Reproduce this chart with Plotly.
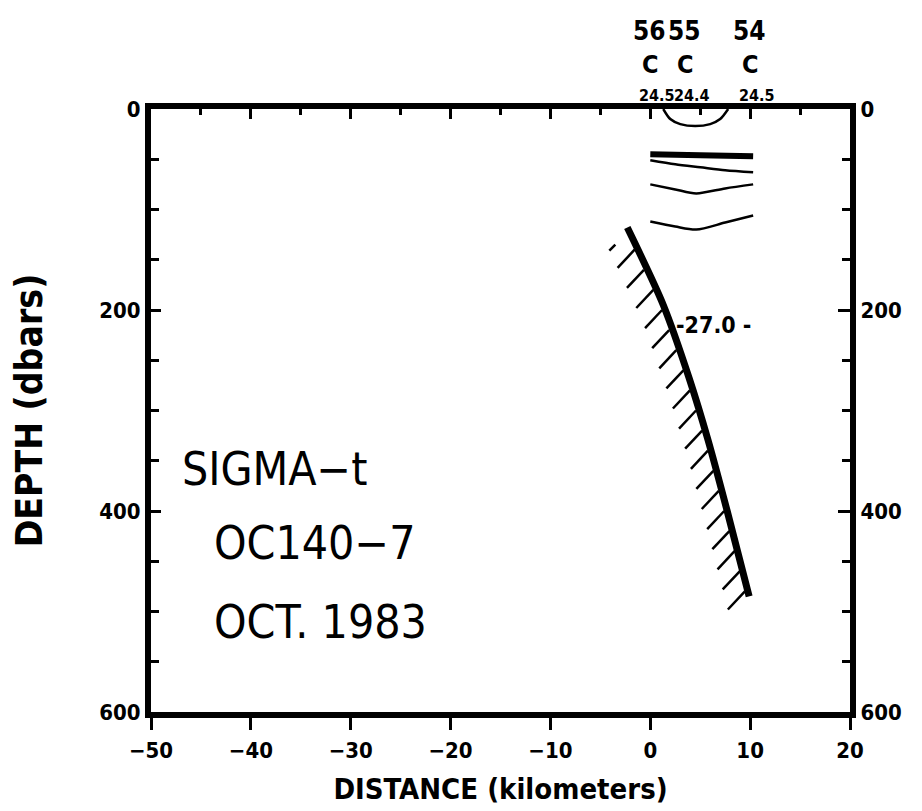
import numpy as np
import plotly.graph_objects as go

# ---------------- data ----------------
station_x = [0.0, 3.5, 10.0]
station_ids = ["56", "55", "54"]
station_cast = ["C", "C", "C"]
surface_sigma = ["24.5", "24.4", "24.5"]

# sigma-t contour lines (distance km, depth dbar)
bowl_x = [1.3, 2.0, 3.0, 4.5, 6.0, 7.0, 7.8]
bowl_d = [0, 10, 15, 17, 15, 10, 0]
c1_x = [0.0, 5.0, 10.3]
c1_d = [45, 46, 47]
c2_x = [0.0, 2.5, 5.0, 7.5, 10.3]
c2_d = [51, 55, 58, 61, 63]
c3_x = [0.0, 2.5, 4.6, 7.5, 10.3]
c3_d = [75, 80, 84, 79, 75]
c4_x = [0.0, 2.5, 4.6, 7.5, 10.3]
c4_d = [112, 117, 120, 113, 106]

# bottom profile
bottom_x = [-2.3, 1.3, 3.9, 5.8, 7.7, 9.9]
bottom_d = [118, 195, 268, 330, 400, 485]
hatch_depths = list(range(140, 481, 20))
stray_x = [-4.1, -3.5]
stray_d = [141, 135]

label_27 = "-27.0 -"
label_27_x = 6.3
label_27_d = 215

x_ticks = [-50, -40, -30, -20, -10, 0, 10, 20]
y_ticks = [0, 200, 400, 600]

FONT = "Liberation Sans Narrow, DejaVu Sans Condensed, Arial Narrow, sans-serif"

fig = go.Figure()

line_style = dict(color="black", shape="spline", smoothing=0.8)

fig.add_trace(go.Scatter(x=bowl_x, y=bowl_d, mode="lines",
                         line=dict(width=2.5, **line_style), hoverinfo="skip"))
fig.add_trace(go.Scatter(x=c1_x, y=c1_d, mode="lines",
                         line=dict(width=6, **line_style), hoverinfo="skip"))
for cx, cd in [(c2_x, c2_d), (c3_x, c3_d), (c4_x, c4_d)]:
    fig.add_trace(go.Scatter(x=cx, y=cd, mode="lines",
                             line=dict(width=2.5, **line_style), hoverinfo="skip"))

# bottom hatching
hx, hy = [], []
bd = np.array(bottom_d, dtype=float)
bx = np.array(bottom_x, dtype=float)
for d in hatch_depths:
    x0 = float(np.interp(d, bd, bx))
    hx += [x0 - 0.3, x0 - 2.0, None]
    hy += [d, d + 18, None]
fig.add_trace(go.Scatter(x=hx, y=hy, mode="lines",
                         line=dict(color="black", width=2.5), hoverinfo="skip"))
fig.add_trace(go.Scatter(x=stray_x, y=stray_d, mode="lines",
                         line=dict(color="black", width=2.5), hoverinfo="skip"))
fig.add_trace(go.Scatter(x=bottom_x, y=bottom_d, mode="lines",
                         line=dict(width=7, **line_style), hoverinfo="skip"))

# invisible traces anchoring the overlay axes
fig.add_trace(go.Scatter(x=[-50, 20], y=[0, 0], xaxis="x2", mode="lines",
                         line=dict(width=0), showlegend=False, hoverinfo="skip"))
fig.add_trace(go.Scatter(x=[-50, 20], y=[0, 0], yaxis="y2", mode="lines",
                         line=dict(width=0), showlegend=False, hoverinfo="skip"))

annotations = []
for sx, sid, sc, sv in zip(station_x, station_ids, station_cast, surface_sigma):
    annotations.append(dict(x=sx, y=1.13, xref="x", yref="paper", yanchor="middle",
                            text="<b>" + sid + "</b>", showarrow=False, xshift=-1,
                            font=dict(family=FONT, size=26, color="black")))
    annotations.append(dict(x=sx, y=1.073, xref="x", yref="paper", yanchor="middle",
                            text="<b>" + sc + "</b>", showarrow=False,
                            font=dict(family=FONT, size=25, color="black")))
    annotations.append(dict(x=sx, y=1.023, xref="x", yref="paper", yanchor="middle",
                            text="<b>" + sv + "</b>", showarrow=False, xshift=7,
                            font=dict(family=FONT, size=16, color="black")))

annotations.append(dict(x=label_27_x, y=label_27_d, xref="x", yref="y", text="<b>" + label_27 + "</b>",
                        showarrow=False, font=dict(family=FONT, size=23, color="black")))

for txt, xx, yy in [("SIGMA−t", -46.4, 358), ("OC140−7", -43.2, 432), ("OCT. 1983", -43.2, 510)]:
    annotations.append(dict(x=xx, y=yy, xref="x", yref="y", text=txt, showarrow=False,
                            xanchor="left", xshift=-7,
                            font=dict(family=FONT, size=46, color="black")))

fig.update_layout(
    width=922, height=811,
    margin=dict(l=143, r=80, t=101, b=107),
    paper_bgcolor="white", plot_bgcolor="white",
    showlegend=False,
    font=dict(family=FONT, color="black"),
    annotations=annotations,
    xaxis=dict(range=[-50, 20], tickvals=x_ticks, ticks="outside", ticklen=12, tickwidth=3,
               tickcolor="black", showline=True, linewidth=6, linecolor="black",
               showgrid=False, zeroline=False, ticklabelstandoff=2,
               tickfont=dict(family=FONT, size=22, color="black", weight="bold"),
               title=dict(text="<b>DISTANCE (kilometers)</b>",
                          font=dict(family=FONT, size=29, color="black"), standoff=18)),
    xaxis2=dict(range=[-50, 20], overlaying="x", side="top", dtick=10, tick0=0,
                ticks="inside", ticklen=10, tickwidth=3, tickcolor="black",
                showticklabels=False, showline=True, linewidth=6, linecolor="black",
                showgrid=False, zeroline=False,
                minor=dict(dtick=5, ticks="inside", ticklen=6, tickwidth=3, tickcolor="black")),
    yaxis=dict(range=[600, 0], tickvals=y_ticks, ticks="inside", ticklen=10, tickwidth=3,
               tickcolor="black", showline=True, linewidth=6, linecolor="black",
               showgrid=False, zeroline=False,
               minor=dict(dtick=50, ticks="inside", ticklen=8, tickwidth=3, tickcolor="black"),
               tickfont=dict(family=FONT, size=22, color="black", weight="bold"),
               title=dict(text="<b>DEPTH (dbars)</b>",
                          font=dict(family=FONT, size=37, color="black"), standoff=52)),
    yaxis2=dict(range=[600, 0], overlaying="y", side="right", tickvals=y_ticks,
                ticks="inside", ticklen=12, tickwidth=3, tickcolor="black",
                showline=True, linewidth=6, linecolor="black", showgrid=False, zeroline=False,
                minor=dict(dtick=50, ticks="inside", ticklen=8, tickwidth=3, tickcolor="black"),
                tickfont=dict(family=FONT, size=22, color="black", weight="bold")),
)

fig.write_html("out.html")
